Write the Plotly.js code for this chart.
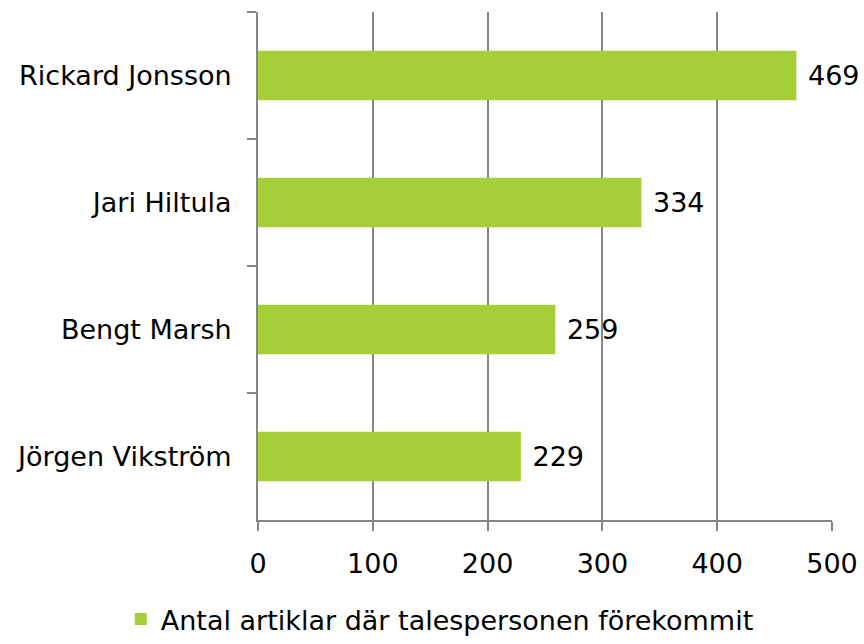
<!DOCTYPE html>
<html>
<head>
<meta charset="utf-8">
<script src="https://cdn.plot.ly/plotly-3.0.1.min.js"></script>
<style>
  body { margin: 0; background: #fff; }
  #plotArea { width: 864px; height: 644px; }
</style>
</head>
<body>
<div id="plotArea"></div>
<script>
// talespersoner, uppifrån och ned
var names = ["Rickard Jonsson", "Jari Hiltula", "Bengt Marsh", "Jörgen Vikström"];
var counts = [469, 334, 259, 229];
var seriesName = "Antal artiklar där talespersonen förekommit";
var xTicks = [0, 100, 200, 300, 400, 500];

var trace = {
    y: names,
    x: counts,
    type: "bar",
    orientation: "h",
    name: seriesName,
    marker: {color: "#a6ce39"},
    // nbsp gives the gap between bar end and the label
    text: counts.map(function(v) { return "\u00a0" + v; }),
    textposition: "outside",
    textfont: {family: "DejaVu Sans, Verdana, sans-serif", size: 27, color: "#000"},
    cliponaxis: false
};

var layout = {
    width: 864,
    height: 644,
    margin: {l: 258, r: 32, t: 12, b: 124},
    font: {family: "DejaVu Sans, Verdana, sans-serif", size: 27, color: "#000"},
    paper_bgcolor: "#fff",
    plot_bgcolor: "#fff",
    bargap: 0.61,
    showlegend: true,
    legend: {
        orientation: "h",
        xref: "container", yref: "container",
        x: 0.509, xanchor: "center",
        y: -0.026, yanchor: "bottom",
        font: {size: 27}
    },
    xaxis: {
        range: [0, 500],
        tickvals: xTicks,
        showgrid: true,
        gridcolor: "#868686",
        gridwidth: 2,
        zeroline: false,
        showline: true,
        linecolor: "#868686",
        linewidth: 2,
        ticks: "outside",
        ticklen: 9,
        tickwidth: 2,
        tickcolor: "#868686",
        ticklabelstandoff: 10
    },
    yaxis: {
        autorange: "reversed",
        showgrid: false,
        zeroline: false,
        showline: true,
        linecolor: "#868686",
        linewidth: 2,
        ticks: "outside",
        tickson: "boundaries",
        ticklen: 9,
        tickwidth: 2,
        tickcolor: "#868686",
        ticklabelstandoff: 19
    }
};

Plotly.newPlot("plotArea", [trace], layout, {displayModeBar: false});
</script>
</body>
</html>
